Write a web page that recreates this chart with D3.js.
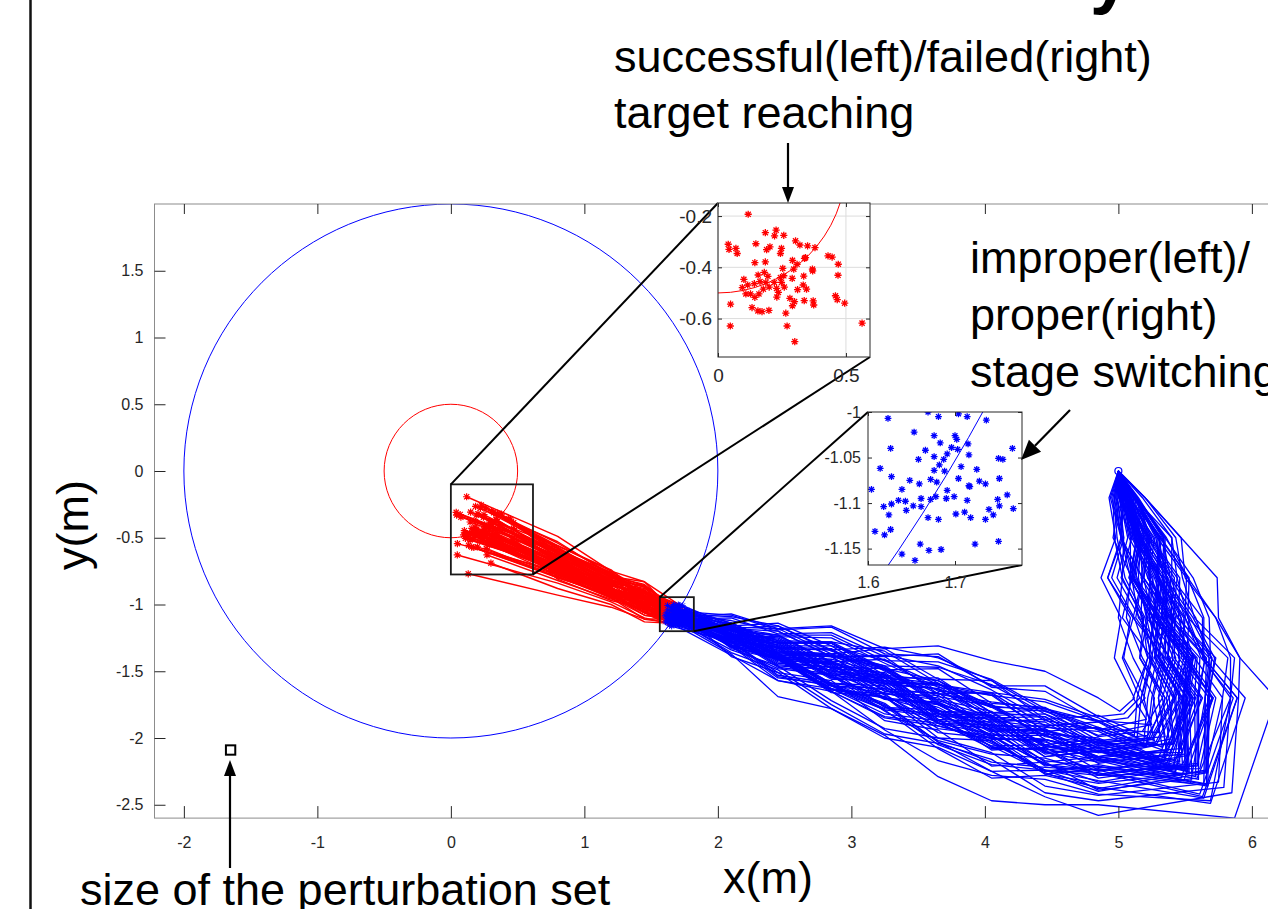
<!DOCTYPE html>
<html>
<head>
<meta charset="utf-8">
<script src="https://cdn.jsdelivr.net/npm/d3@7"></script>
<style>
  body { margin: 0; background: #fff; }
  svg { display: block; }
</style>
</head>
<body>
<svg id="fig" width="1268" height="909"></svg>
<script>
// ---- axis ticks ----
const xTicks = [-2, -1, 0, 1, 2, 3, 4, 5, 6];
const yTicks = [-2.5, -2, -1.5, -1, -0.5, 0, 0.5, 1, 1.5];
const redInsetXTicks = [0, 0.5];
const redInsetYTicks = [-0.6, -0.4, -0.2];
const blueInsetXTicks = [1.6, 1.7];
const blueInsetYTicks = [-1.15, -1.1, -1.05, -1];

// ---- circles (radius, colour) ----
const circleRadii = [2, 0.5];
const circleColors = ["#0000ff", "#ff0000"];

// ---- zoom windows in data units [x0, x1, y0, y1] ----
const redZoomBox = [0, 0.615, -0.775, -0.1];
const blueZoomBox = [1.565, 1.82, -1.2, -0.945];
const perturbBox = [-1.685, -1.615, -2.125, -2.055];

// ---- start of every run ----
const startPt = [5.0, 0.0];

// ---- target reaching points (red stars) ----
const targetX = [0.118,0.040,0.043,0.070,0.075,0.148,0.185,0.227,0.221,0.257,
  0.190,0.203,0.248,0.244,0.303,0.320,0.350,0.379,0.144,0.185,
  0.253,0.291,0.309,0.296,0.338,0.342,0.430,0.446,0.470,0.369,
  0.370,0.469,0.101,0.157,0.181,0.195,0.164,0.187,0.220,0.244,
  0.257,0.248,0.290,0.335,0.095,0.142,0.200,0.229,0.236,0.259,
  0.109,0.127,0.160,0.144,0.230,0.281,0.311,0.333,0.346,0.337,
  0.372,0.374,0.299,0.049,0.133,0.156,0.172,0.199,0.265,0.291,
  0.459,0.466,0.495,0.048,0.270,0.300,0.563,0.116,0.177,0.130];
const targetY = [-0.193,-0.310,-0.330,-0.326,-0.346,-0.308,-0.265,-0.255,-0.277,-0.275,
  -0.331,-0.320,-0.326,-0.346,-0.297,-0.313,-0.316,-0.323,-0.382,-0.379,
  -0.404,-0.373,-0.388,-0.407,-0.365,-0.362,-0.355,-0.360,-0.388,-0.407,
  -0.414,-0.431,-0.447,-0.430,-0.420,-0.435,-0.456,-0.459,-0.459,-0.440,
  -0.433,-0.459,-0.443,-0.434,-0.479,-0.464,-0.477,-0.482,-0.498,-0.477,
  -0.504,-0.504,-0.504,-0.517,-0.516,-0.521,-0.487,-0.469,-0.485,-0.530,
  -0.531,-0.547,-0.534,-0.544,-0.557,-0.570,-0.573,-0.568,-0.579,-0.550,
  -0.511,-0.526,-0.540,-0.629,-0.629,-0.690,-0.618,-0.469,-0.485,-0.770];

// ---- stage switching points (blue stars) ----
const switchX = [1.623,1.669,1.681,1.704,1.714,1.736,1.653,1.676,1.683,1.700,
  1.702,1.696,1.703,1.715,1.626,1.666,1.676,1.691,1.658,1.687,
  1.682,1.614,1.676,1.688,1.707,1.725,1.716,1.750,1.755,1.766,
  1.627,1.672,1.648,1.659,1.679,1.704,1.716,1.728,1.735,1.751,
  1.604,1.639,1.691,1.717,1.760,1.749,1.661,1.672,1.678,1.690,
  1.699,1.714,1.635,1.643,1.627,1.618,1.652,1.644,1.624,1.701,
  1.711,1.718,1.739,1.744,1.751,1.767,1.669,1.681,1.735,1.608,
  1.619,1.626,1.660,1.670,1.684,1.723,1.750,1.639,1.654,1.661];
const switchY = [-1.007,-1.000,-1.005,-1.002,-1.005,-1.009,-1.022,-1.026,-1.034,-1.026,
  -1.030,-1.039,-1.041,-1.035,-1.040,-1.042,-1.049,-1.046,-1.052,-1.052,
  -1.058,-1.062,-1.064,-1.065,-1.060,-1.063,-1.047,-1.051,-1.052,-1.040,
  -1.071,-1.074,-1.075,-1.079,-1.077,-1.073,-1.081,-1.076,-1.079,-1.073,
  -1.085,-1.085,-1.086,-1.082,-1.091,-1.096,-1.095,-1.096,-1.093,-1.095,
  -1.093,-1.097,-1.097,-1.098,-1.101,-1.104,-1.103,-1.108,-1.113,-1.112,
  -1.110,-1.116,-1.107,-1.113,-1.103,-1.106,-1.116,-1.118,-1.118,-1.131,
  -1.135,-1.129,-1.145,-1.152,-1.151,-1.145,-1.142,-1.156,-1.163,-1.104];

// ---- blue runs, way down: x of each run where it crosses these y levels ----
const downLevels = [-0.2, -0.5, -0.8, -1.1, -1.4, -1.7];
const downX1 = [5.09,5.00,5.13,5.02,5.12,4.99,5.08,5.14,5.01,5.13,4.97,5.10,5.08,5.14,5.01,5.13,4.94,5.04,5.14,5.05,
  5.08,5.03,5.11,5.07,5.09,5.03,5.20,5.04,5.06,5.07,5.01,5.09,5.05,5.04,5.06,5.12,5.08,4.97,5.12,5.09,
  5.03,5.20,5.01,5.03,5.08,5.06,5.05,4.93,5.14,5.04,5.06,4.98,5.18,5.09,5.02,5.12,4.99,5.20,5.10,4.95,
  5.13,5.06,5.04,5.12,4.98,5.06,5.02,5.15,4.96,5.04,5.13,5.02,5.14,5.01,5.09,5.01,5.11,5.02,5.13,5.09];
const downX2 = [5.14,5.14,5.34,5.11,5.28,5.04,5.12,5.33,5.17,5.35,5.02,5.17,5.21,5.35,5.16,5.30,5.02,5.17,5.24,5.16,
  5.32,5.09,5.32,5.11,5.25,5.02,5.47,5.23,5.16,5.22,5.04,5.26,5.24,5.02,5.20,5.40,5.17,4.99,5.31,5.15,
  5.10,5.43,4.96,5.12,5.31,5.13,5.17,4.98,5.23,5.13,5.18,5.10,5.40,5.13,5.19,5.19,5.03,5.47,5.23,5.03,
  5.22,5.17,5.22,5.29,5.02,5.27,5.08,5.34,4.97,5.16,5.29,5.13,5.36,5.15,5.14,5.07,5.17,5.18,5.31,5.20];
const downX3 = [5.33,5.08,5.33,5.25,5.34,4.95,5.31,5.39,5.11,5.56,5.14,5.37,5.24,5.35,5.10,5.36,4.92,5.33,5.46,5.10,
  5.30,5.09,5.52,5.29,5.22,5.18,5.50,5.19,5.18,5.39,5.03,5.39,5.19,5.18,5.37,5.40,5.15,5.05,5.29,5.35,
  5.26,5.48,5.10,5.22,5.28,5.10,5.28,4.87,5.44,5.30,5.30,5.02,5.44,5.31,5.13,5.39,5.11,5.74,5.23,4.92,
  5.42,5.12,5.17,5.51,5.09,5.23,5.24,5.36,5.03,5.31,5.30,5.27,5.52,5.08,5.33,4.99,5.37,5.11,5.53,5.19];
const downX4 = [5.30,5.27,5.54,5.35,5.33,5.12,5.28,5.40,5.32,5.68,5.22,5.34,5.23,5.56,5.30,5.36,5.11,5.43,5.45,5.29,
  5.53,5.06,5.64,5.26,5.41,5.13,5.73,5.40,5.17,5.50,5.00,5.58,5.38,5.11,5.47,5.63,5.21,5.20,5.50,5.32,
  5.23,5.57,5.03,5.39,5.49,5.15,5.45,5.02,5.41,5.27,5.47,5.19,5.52,5.26,5.34,5.35,5.26,5.75,5.29,5.09,
  5.39,5.31,5.36,5.50,5.24,5.42,5.21,5.44,5.18,5.41,5.38,5.37,5.73,5.26,5.28,5.16,5.32,5.30,5.52,5.25];
const downX5 = [5.53,5.23,5.70,5.30,5.50,5.22,5.51,5.57,5.27,5.69,5.16,5.58,5.38,5.72,5.25,5.52,5.03,5.40,5.70,5.41,
  5.51,5.18,5.64,5.49,5.55,5.34,5.91,5.37,5.30,5.47,5.11,5.68,5.37,5.35,5.45,5.63,5.46,5.24,5.65,5.56,
  5.31,5.87,5.25,5.46,5.49,5.39,5.53,4.97,5.68,5.36,5.56,5.16,5.82,5.51,5.30,5.61,5.32,5.91,5.56,5.04,
  5.66,5.43,5.35,5.62,5.29,5.42,5.28,5.73,5.22,5.37,5.65,5.33,5.84,5.23,5.54,5.26,5.59,5.28,5.64,5.51];
const downX6 = [5.48,5.38,5.65,5.52,5.70,5.11,5.45,5.78,5.43,5.95,5.35,5.53,5.56,5.68,5.41,5.73,5.16,5.62,5.67,5.33,
  5.70,5.35,5.89,5.42,5.49,5.26,5.90,5.54,5.48,5.71,5.27,5.65,5.58,5.30,5.68,5.84,5.38,5.17,5.60,5.50,
  5.51,5.84,5.19,5.41,5.71,5.30,5.49,5.12,5.68,5.56,5.52,5.33,5.78,5.49,5.46,5.60,5.25,6.18,5.48,5.20,
  5.65,5.36,5.55,5.86,5.22,5.63,5.48,5.67,5.14,5.60,5.59,5.54,5.84,5.42,5.51,5.17,5.57,5.47,5.89,5.43];

// ---- blue runs: lowest point of each run ----
const cornerX = [5.50,5.22,5.65,5.34,5.59,5.21,5.48,5.65,5.26,5.69,5.20,5.55,5.48,5.67,5.24,5.61,5.04,5.42,5.66,5.38,
  5.48,5.30,5.64,5.46,5.52,5.33,5.85,5.35,5.41,5.49,5.24,5.54,5.38,5.36,5.47,5.59,5.42,5.14,5.60,5.52,
  5.32,5.79,5.27,5.34,5.49,5.35,5.41,5.01,5.67,5.37,5.43,5.18,5.75,5.51,5.28,5.60,5.21,5.87,5.50,5.07,
  5.64,5.41,5.36,5.61,5.19,5.43,5.30,5.66,5.12,5.40,5.59,5.36,5.69,5.25,5.53,5.25,5.58,5.29,5.63,5.46];
const cornerY = [-2.22,-1.98,-2.24,-2.18,-2.21,-1.86,-2.20,-2.26,-2.01,-2.49,-2.07,-2.26,-2.11,-2.26,-2.00,-2.23,-1.82,-2.26,-2.35,-2.01,
  -2.20,-1.96,-2.45,-2.18,-2.13,-2.07,-2.41,-2.09,-2.05,-2.32,-1.90,-2.34,-2.12,-2.10,-2.30,-2.30,-2.04,-2.00,-2.20,-2.24,
  -2.17,-2.37,-2.02,-2.17,-2.21,-1.99,-2.23,-1.80,-2.36,-2.21,-2.25,-1.95,-2.33,-2.23,-2.03,-2.31,-2.06,-2.60,-2.12,-1.85,
  -2.34,-2.03,-2.10,-2.42,-2.04,-2.16,-2.15,-2.25,-1.98,-2.24,-2.19,-2.20,-2.47,-2.01,-2.25,-1.90,-2.29,-2.04,-2.44,-2.08];

// ---- blue runs, way back: y of each run where it crosses these x levels ----
const leftLevels = [4.85, 4.45, 4.05, 3.65, 3.25, 2.85, 2.45, 2.1];
const leftY1 = [-2.05,-2.02,-2.38,-2.02,-2.22,-1.94,-2.03,-2.28,-2.06,-2.37,-1.88,-2.10,-2.11,-2.40,-2.04,-2.24,-1.84,-2.10,-2.21,-2.11,
  -2.28,-1.93,-2.32,-2.01,-2.25,-1.88,-2.58,-2.15,-2.04,-2.17,-1.87,-2.27,-2.19,-1.92,-2.15,-2.39,-2.10,-1.87,-2.33,-2.07,
  -1.95,-2.47,-1.83,-2.07,-2.30,-2.03,-2.14,-1.70,-2.23,-2.00,-2.16,-1.99,-2.43,-2.07,-2.08,-2.16,-1.94,-2.50,-2.18,-1.88,
  -2.20,-2.14,-2.17,-2.24,-1.92,-2.24,-1.93,-2.34,-1.85,-2.08,-2.27,-2.04,-2.42,-2.06,-2.09,-1.98,-2.14,-2.10,-2.26,-2.14];
const leftY2 = [-2.09,-1.79,-2.24,-1.91,-2.17,-1.78,-2.07,-2.24,-1.84,-2.28,-1.78,-2.14,-2.06,-2.26,-1.82,-2.20,-1.61,-2.01,-2.25,-1.96,
  -2.07,-1.87,-2.24,-2.05,-2.10,-1.91,-2.44,-1.93,-1.99,-2.08,-1.80,-2.15,-1.97,-1.95,-2.05,-2.18,-2.01,-1.73,-2.19,-2.12,
  -1.92,-2.41,-1.86,-1.94,-2.09,-1.95,-2.01,-1.50,-2.27,-1.97,-2.03,-1.77,-2.36,-2.11,-1.86,-2.21,-1.80,-2.50,-2.11,-1.65,
  -2.25,-1.98,-1.95,-2.22,-1.78,-2.02,-1.90,-2.27,-1.71,-1.98,-2.20,-1.94,-2.31,-1.84,-2.14,-1.82,-2.18,-1.88,-2.24,-2.06];
const leftY3 = [-1.85,-1.81,-2.04,-1.91,-1.96,-1.56,-1.83,-2.03,-1.85,-2.30,-1.77,-1.90,-1.84,-2.06,-1.83,-1.98,-1.61,-2.01,-2.02,-1.75,
  -2.09,-1.64,-2.25,-1.81,-1.89,-1.66,-2.25,-1.95,-1.76,-2.08,-1.57,-2.12,-1.95,-1.67,-2.06,-2.21,-1.75,-1.68,-1.99,-1.88,
  -1.87,-2.16,-1.57,-1.90,-2.07,-1.68,-1.97,-1.42,-2.00,-1.92,-2.00,-1.74,-2.11,-1.83,-1.88,-1.93,-1.76,-2.47,-1.85,-1.62,
  -1.98,-1.77,-1.93,-2.18,-1.73,-2.00,-1.84,-2.02,-1.66,-1.98,-1.94,-1.94,-2.28,-1.81,-1.86,-1.60,-1.91,-1.86,-2.20,-1.80];
const leftY4 = [-1.84,-1.57,-1.87,-1.73,-1.75,-1.43,-1.82,-1.81,-1.61,-2.08,-1.59,-1.89,-1.64,-1.89,-1.59,-1.77,-1.39,-1.81,-2.00,-1.60,
  -1.83,-1.46,-2.03,-1.80,-1.74,-1.67,-2.07,-1.70,-1.57,-1.88,-1.40,-2.02,-1.68,-1.65,-1.86,-1.94,-1.67,-1.62,-1.82,-1.86,
  -1.74,-2.04,-1.56,-1.82,-1.79,-1.60,-1.89,-1.31,-1.96,-1.79,-1.91,-1.48,-2.00,-1.80,-1.63,-1.89,-1.69,-2.29,-1.75,-1.37,
  -1.93,-1.63,-1.66,-2.03,-1.67,-1.73,-1.72,-1.91,-1.60,-1.79,-1.84,-1.75,-2.17,-1.55,-1.82,-1.47,-1.87,-1.59,-2.05,-1.71];
const leftY5 = [-1.55,-1.53,-1.82,-1.47,-1.64,-1.42,-1.53,-1.70,-1.57,-1.79,-1.35,-1.59,-1.54,-1.84,-1.55,-1.66,-1.37,-1.55,-1.69,-1.58,
  -1.77,-1.38,-1.75,-1.51,-1.70,-1.39,-2.00,-1.65,-1.48,-1.61,-1.32,-1.80,-1.67,-1.41,-1.59,-1.87,-1.63,-1.44,-1.78,-1.57,
  -1.48,-1.97,-1.33,-1.62,-1.77,-1.57,-1.68,-1.33,-1.69,-1.52,-1.70,-1.49,-1.93,-1.55,-1.59,-1.63,-1.50,-1.98,-1.71,-1.39,
  -1.67,-1.60,-1.65,-1.74,-1.48,-1.71,-1.46,-1.85,-1.42,-1.53,-1.79,-1.49,-1.94,-1.55,-1.57,-1.46,-1.61,-1.59,-1.76,-1.67];
const leftY6 = [-1.52,-1.29,-1.63,-1.38,-1.59,-1.31,-1.50,-1.64,-1.33,-1.63,-1.28,-1.55,-1.51,-1.65,-1.31,-1.61,-1.17,-1.44,-1.63,-1.44,
  -1.49,-1.39,-1.60,-1.48,-1.54,-1.39,-1.78,-1.39,-1.47,-1.49,-1.34,-1.53,-1.44,-1.43,-1.47,-1.57,-1.48,-1.25,-1.60,-1.53,
  -1.38,-1.75,-1.37,-1.39,-1.52,-1.43,-1.44,-1.16,-1.66,-1.41,-1.45,-1.29,-1.72,-1.55,-1.34,-1.61,-1.29,-1.78,-1.54,-1.21,
  -1.64,-1.46,-1.42,-1.59,-1.28,-1.47,-1.37,-1.65,-1.23,-1.43,-1.61,-1.39,-1.65,-1.34,-1.56,-1.35,-1.59,-1.37,-1.61,-1.51];
const leftY7 = [-1.30,-1.29,-1.40,-1.36,-1.37,-1.14,-1.29,-1.41,-1.32,-1.57,-1.29,-1.33,-1.31,-1.41,-1.31,-1.39,-1.19,-1.42,-1.39,-1.24,
  -1.45,-1.20,-1.55,-1.28,-1.32,-1.20,-1.51,-1.37,-1.27,-1.46,-1.16,-1.48,-1.40,-1.23,-1.44,-1.51,-1.26,-1.24,-1.37,-1.32,
  -1.36,-1.49,-1.18,-1.36,-1.47,-1.23,-1.40,-1.18,-1.41,-1.39,-1.41,-1.29,-1.46,-1.32,-1.33,-1.38,-1.28,-1.69,-1.32,-1.22,
  -1.40,-1.25,-1.39,-1.53,-1.27,-1.43,-1.35,-1.41,-1.23,-1.40,-1.37,-1.38,-1.57,-1.33,-1.34,-1.16,-1.36,-1.35,-1.54,-1.29];
const leftY8 = [-1.25,-1.14,-1.32,-1.18,-1.22,-1.16,-1.24,-1.25,-1.16,-1.31,-1.14,-1.26,-1.18,-1.33,-1.15,-1.23,-1.08,-1.22,-1.30,-1.23,
  -1.24,-1.12,-1.30,-1.23,-1.27,-1.18,-1.39,-1.19,-1.16,-1.24,-1.09,-1.32,-1.21,-1.20,-1.23,-1.28,-1.22,-1.18,-1.31,-1.26,
  -1.17,-1.36,-1.17,-1.25,-1.25,-1.20,-1.27,-1.07,-1.31,-1.18,-1.28,-1.14,-1.34,-1.26,-1.17,-1.29,-1.20,-1.37,-1.26,-1.10,
  -1.31,-1.23,-1.20,-1.27,-1.19,-1.22,-1.16,-1.31,-1.17,-1.21,-1.29,-1.19,-1.38,-1.16,-1.27,-1.18,-1.28,-1.18,-1.28,-1.24];

// ---- red runs: y of each run where it crosses these x levels ----
const redLevels = [1.45, 1.2, 0.8];
const redY0 = [-0.83,-0.94,-0.87,-0.92,-0.83,-0.90,-0.86,-0.95,-0.85,-0.93,-0.90,-0.96,-0.86,-0.95,-0.87,-0.97,-0.90,-0.94,-0.89,-0.98,
  -0.91,-1.01,-0.94,-0.99,-0.88,-0.97,-0.87,-1.00,-0.91,-0.96,-0.91,-1.01,-0.94,-1.04,-0.94,-1.01,-0.90,-1.01,-0.92,-1.04,
  -0.94,-1.00,-0.91,-1.03,-0.96,-1.05,-0.98,-1.03,-0.93,-1.02,-0.95,-1.06,-0.96,-1.02,-0.94,-1.06,-0.96,-1.06,-0.99,-1.06,
  -0.94,-1.06,-0.96,-1.08,-0.98,-1.04,-0.96,-1.08,-0.98,-1.11,-1.01,-1.06,-0.98,-1.10,-1.01,-1.13,-1.03,-1.06,-0.98,-1.11];
const redY1 = [-0.75,-0.76,-0.80,-0.76,-0.79,-0.75,-0.78,-0.74,-0.79,-0.77,-0.81,-0.78,-0.82,-0.79,-0.80,-0.77,-0.82,-0.79,-0.84,-0.81,
  -0.85,-0.82,-0.85,-0.83,-0.83,-0.81,-0.80,-0.83,-0.82,-0.84,-0.86,-0.85,-0.88,-0.87,-0.84,-0.87,-0.86,-0.89,-0.86,-0.88,
  -0.85,-0.88,-0.86,-0.87,-0.90,-0.87,-0.90,-0.88,-0.91,-0.88,-0.90,-0.91,-0.88,-0.91,-0.89,-0.92,-0.90,-0.88,-0.91,-0.93,
  -0.90,-0.94,-0.92,-0.93,-0.91,-0.94,-0.92,-0.95,-0.93,-0.95,-0.93,-0.91,-0.95,-0.98,-0.96,-1.00,-0.97,-0.93,-0.92,-1.02];
const redY2 = [-0.49,-0.59,-0.58,-0.60,-0.61,-0.56,-0.53,-0.56,-0.58,-0.54,-0.61,-0.60,-0.62,-0.63,-0.57,-0.61,-0.58,-0.62,-0.63,-0.66,
  -0.64,-0.65,-0.66,-0.67,-0.62,-0.64,-0.60,-0.61,-0.65,-0.66,-0.68,-0.69,-0.70,-0.67,-0.69,-0.66,-0.71,-0.70,-0.68,-0.69,
  -0.70,-0.71,-0.68,-0.66,-0.72,-0.71,-0.70,-0.73,-0.74,-0.72,-0.72,-0.74,-0.75,-0.73,-0.76,-0.75,-0.71,-0.72,-0.74,-0.76,
  -0.74,-0.77,-0.76,-0.75,-0.78,-0.79,-0.80,-0.77,-0.80,-0.78,-0.74,-0.77,-0.79,-0.84,-0.82,-0.88,-0.81,-0.74,-0.76,-0.93];

// ---------------------------------------------------------------
const W = 1268, H = 909;
const FONT = '"Liberation Sans", Arial, Helvetica, sans-serif';
const RED = "#ff0000", BLUE = "#0000ff", TXT = "#262626";
const svg = d3.select("#fig").attr("font-family", FONT);

const x = d3.scaleLinear().domain([-2.22, 6.32]).range([154.5, 1294.6]);
const y = d3.scaleLinear().domain([-2.6, 2.0]).range([818.1, 204]);

const downCols = [downX1, downX2, downX3, downX4, downX5, downX6];
const leftCols = [leftY1, leftY2, leftY3, leftY4, leftY5, leftY6, leftY7, leftY8];
const redCols = [redY0, redY1, redY2];

const bluePaths = switchX.map((sx, i) => [
  startPt,
  ...downLevels.map((lv, k) => [downCols[k][i], lv]),
  [cornerX[i], cornerY[i]],
  ...leftLevels.map((lv, k) => [lv, leftCols[k][i]]),
  [sx, switchY[i]]
]);
const redPaths = switchX.map((sx, i) => [
  [sx, switchY[i]],
  ...redLevels.map((lv, k) => [lv, redCols[k][i]]),
  [targetX[i], targetY[i]]
]);
const targets = targetX.map((v, i) => [v, targetY[i]]);
const switches = switchX.map((v, i) => [v, switchY[i]]);

const starPath = r => {
  const d = r * 0.72;
  return `M${-r},0H${r}M0,${-r}V${r}M${-d},${-d}L${d},${d}M${-d},${d}L${d},${-d}`;
};

// left frame edge of the figure
svg.append("line").attr("x1", 30.5).attr("x2", 30.5).attr("y1", 0).attr("y2", H)
  .attr("stroke", "#111").attr("stroke-width", 2.5);

// ---------- main axes ----------
const [px0, px1] = x.range();
const [py1, py0] = y.range();
const defs = svg.append("defs");
defs.append("clipPath").attr("id", "clipMain").append("rect")
  .attr("x", px0).attr("y", py0).attr("width", px1 - px0).attr("height", py1 - py0);

const plot = svg.append("g").attr("clip-path", "url(#clipMain)");

plot.selectAll("ellipse.ring").data(circleRadii).join("ellipse")
  .attr("class", "ring")
  .attr("cx", x(0)).attr("cy", y(0))
  .attr("rx", r => x(r) - x(0)).attr("ry", r => y(-r) - y(0))
  .attr("fill", "none").attr("stroke", (r, i) => circleColors[i]).attr("stroke-width", 1);

const lineMain = d3.line().x(d => x(d[0])).y(d => y(d[1]));

plot.append("g").selectAll("path").data(redPaths).join("path")
  .attr("d", lineMain).attr("fill", "none").attr("stroke", RED).attr("stroke-width", 1.45)
  .attr("stroke-linejoin", "round");
plot.append("g").selectAll("path").data(bluePaths).join("path")
  .attr("d", lineMain).attr("fill", "none").attr("stroke", BLUE).attr("stroke-width", 1.3)
  .attr("stroke-linejoin", "round");

plot.append("circle").attr("cx", x(startPt[0])).attr("cy", y(startPt[1])).attr("r", 3.5)
  .attr("fill", "none").attr("stroke", BLUE).attr("stroke-width", 1.2);

plot.append("g").selectAll("path").data(targets).join("path")
  .attr("transform", d => `translate(${x(d[0])},${y(d[1])})`)
  .attr("d", starPath(3.6)).attr("stroke", RED).attr("stroke-width", 1.2).attr("fill", "none");
plot.append("g").selectAll("path").data(switches).join("path")
  .attr("transform", d => `translate(${x(d[0])},${y(d[1])})`)
  .attr("d", starPath(3.2)).attr("stroke", BLUE).attr("stroke-width", 1).attr("fill", "none");

[redZoomBox, blueZoomBox].forEach(b => {
  plot.append("rect").attr("x", x(b[0])).attr("y", y(b[3]))
    .attr("width", x(b[1]) - x(b[0])).attr("height", y(b[2]) - y(b[3]))
    .attr("fill", "none").attr("stroke", "#1a1a1a").attr("stroke-width", 1.8);
});
plot.append("rect").attr("x", x(perturbBox[0])).attr("y", y(perturbBox[3]))
  .attr("width", x(perturbBox[1]) - x(perturbBox[0])).attr("height", y(perturbBox[2]) - y(perturbBox[3]))
  .attr("fill", "none").attr("stroke", "#000").attr("stroke-width", 2);

svg.append("rect").attr("x", px0).attr("y", py0).attr("width", px1 - px0).attr("height", py1 - py0)
  .attr("fill", "none").attr("stroke", "#8c8c8c").attr("stroke-width", 1);

const styleAxis = (g, fs) => {
  g.select(".domain").remove();
  g.attr("font-family", FONT).attr("font-size", fs);
  g.selectAll(".tick line").attr("stroke", TXT);
  g.selectAll(".tick text").attr("fill", TXT);
};
const fmt = d => String(d);

svg.append("g").attr("transform", `translate(0,${py1})`)
  .call(d3.axisBottom(x).tickValues(xTicks).tickSizeInner(-12).tickSizeOuter(0).tickPadding(19).tickFormat(fmt))
  .call(g => styleAxis(g, 16));
svg.append("g").attr("transform", `translate(0,${py0})`)
  .call(d3.axisTop(x).tickValues(xTicks).tickSizeInner(-10).tickSizeOuter(0).tickFormat(""))
  .call(g => styleAxis(g, 16));
svg.append("g").attr("transform", `translate(${px0},0)`)
  .call(d3.axisLeft(y).tickValues(yTicks).tickSizeInner(-11).tickSizeOuter(0).tickPadding(11).tickFormat(fmt))
  .call(g => styleAxis(g, 16));

// ---------- insets ----------
const redIn = {
  id: "clipRed",
  x: d3.scaleLinear().domain([0, 0.594]).range([718, 870]),
  y: d3.scaleLinear().domain([-0.75, -0.149]).range([357, 203]),
  xt: redInsetXTicks, yt: redInsetYTicks, grid: true, box: redZoomBox
};
const blueIn = {
  id: "clipBlue",
  x: d3.scaleLinear().domain([1.6, 1.777]).range([868, 1022]),
  y: d3.scaleLinear().domain([-1.168, -1.0]).range([565, 412]),
  xt: blueInsetXTicks, yt: blueInsetYTicks, grid: false, box: blueZoomBox
};

[redIn, blueIn].forEach(ins => {
  const b = ins.box;
  const [ix0, ix1] = ins.x.range();
  const [iy1, iy0] = ins.y.range();
  svg.append("line").attr("x1", x(b[0])).attr("y1", y(b[3])).attr("x2", ix0).attr("y2", iy0)
    .attr("stroke", "#000").attr("stroke-width", 2);
  svg.append("line").attr("x1", x(b[1])).attr("y1", y(b[2])).attr("x2", ix1).attr("y2", iy1)
    .attr("stroke", "#000").attr("stroke-width", 2);
});

function drawInset(ins) {
  const [ix0, ix1] = ins.x.range();
  const [iy1, iy0] = ins.y.range();
  const g = svg.append("g");
  g.append("rect").attr("x", ix0).attr("y", iy0).attr("width", ix1 - ix0).attr("height", iy1 - iy0)
    .attr("fill", "#fff");
  defs.append("clipPath").attr("id", ins.id).append("rect")
    .attr("x", ix0).attr("y", iy0).attr("width", ix1 - ix0).attr("height", iy1 - iy0);
  if (ins.grid) {
    g.selectAll("line.gx").data(ins.xt).join("line").attr("class", "gx")
      .attr("x1", d => ins.x(d)).attr("x2", d => ins.x(d)).attr("y1", iy0).attr("y2", iy1)
      .attr("stroke", "#dcdcdc").attr("stroke-width", 1);
    g.selectAll("line.gy").data(ins.yt).join("line").attr("class", "gy")
      .attr("y1", d => ins.y(d)).attr("y2", d => ins.y(d)).attr("x1", ix0).attr("x2", ix1)
      .attr("stroke", "#dcdcdc").attr("stroke-width", 1);
  }
  const p = g.append("g").attr("clip-path", `url(#${ins.id})`);
  return { g, p, ix0, ix1, iy0, iy1 };
}

function insetAxes(ins, r, fs, padX, padY) {
  const { g, ix0, ix1, iy0, iy1 } = r;
  g.append("g").attr("transform", `translate(0,${iy1})`)
    .call(d3.axisBottom(ins.x).tickValues(ins.xt).tickSizeInner(-4).tickSizeOuter(0).tickPadding(padY).tickFormat(fmt))
    .call(a => styleAxis(a, fs));
  g.append("g").attr("transform", `translate(0,${iy0})`)
    .call(d3.axisTop(ins.x).tickValues(ins.xt).tickSizeInner(-4).tickSizeOuter(0).tickFormat(""))
    .call(a => styleAxis(a, fs));
  g.append("g").attr("transform", `translate(${ix0},0)`)
    .call(d3.axisLeft(ins.y).tickValues(ins.yt).tickSizeInner(-4).tickSizeOuter(0).tickPadding(padX).tickFormat(fmt))
    .call(a => styleAxis(a, fs));
  g.append("g").attr("transform", `translate(${ix1},0)`)
    .call(d3.axisRight(ins.y).tickValues(ins.yt).tickSizeInner(-4).tickSizeOuter(0).tickFormat(""))
    .call(a => styleAxis(a, fs));
  g.append("rect").attr("x", ix0).attr("y", iy0).attr("width", ix1 - ix0).attr("height", iy1 - iy0)
    .attr("fill", "none").attr("stroke", TXT).attr("stroke-width", 1);
}

const rIn = drawInset(redIn);
rIn.p.append("ellipse").attr("cx", redIn.x(0)).attr("cy", redIn.y(0))
  .attr("rx", redIn.x(circleRadii[1]) - redIn.x(0)).attr("ry", redIn.y(-circleRadii[1]) - redIn.y(0))
  .attr("fill", "none").attr("stroke", RED).attr("stroke-width", 1);
rIn.p.selectAll("path.st").data(targets).join("path").attr("class", "st")
  .attr("transform", d => `translate(${redIn.x(d[0])},${redIn.y(d[1])})`)
  .attr("d", starPath(3.6)).attr("stroke", RED).attr("stroke-width", 1.3).attr("fill", "none");
insetAxes(redIn, rIn, 19, 6, 12);

const bIn = drawInset(blueIn);
bIn.p.append("ellipse").attr("cx", blueIn.x(0)).attr("cy", blueIn.y(0))
  .attr("rx", blueIn.x(circleRadii[0]) - blueIn.x(0)).attr("ry", blueIn.y(-circleRadii[0]) - blueIn.y(0))
  .attr("fill", "none").attr("stroke", BLUE).attr("stroke-width", 1);
bIn.p.selectAll("path.st").data(switches).join("path").attr("class", "st")
  .attr("transform", d => `translate(${blueIn.x(d[0])},${blueIn.y(d[1])})`)
  .attr("d", starPath(3.4)).attr("stroke", BLUE).attr("stroke-width", 1.3).attr("fill", "none");
insetAxes(blueIn, bIn, 16, 7, 12);

// ---------- annotations ----------
function arrow(x1, y1, x2, y2, len, wid) {
  const a = Math.atan2(y2 - y1, x2 - x1);
  const bx = x2 - len * Math.cos(a), by = y2 - len * Math.sin(a);
  const nx = -Math.sin(a) * wid / 2, ny = Math.cos(a) * wid / 2;
  svg.append("line").attr("x1", x1).attr("y1", y1).attr("x2", bx).attr("y2", by)
    .attr("stroke", "#000").attr("stroke-width", 2.2);
  svg.append("path").attr("d", `M${x2},${y2}L${bx + nx},${by + ny}L${bx - nx},${by - ny}Z`).attr("fill", "#000");
}
arrow(788, 143, 788, 203, 16, 12);
arrow(1070, 410, 1021, 460, 20, 17);
arrow(230, 868, 230, 760, 16, 12);

const label = (t, lx, ly, fs) => svg.append("text").attr("x", lx).attr("y", ly)
  .attr("font-size", fs).attr("fill", "#000").text(t);
label("successful(left)/failed(right)", 614, 72, 45);
label("target reaching", 614, 128, 45);
label("improper(left)/", 970, 273, 45);
label("proper(right)", 970, 330, 45);
label("stage switching", 970, 387, 45);
label("size of the perturbation set", 80, 905, 45);
label("x(m)", 723, 893, 45);
svg.append("text").attr("transform", "translate(88,525) rotate(-90)")
  .attr("text-anchor", "middle").attr("font-size", 45).attr("fill", "#000").text("y(m)");

// tail of the cut-off figure title
svg.append("text").attr("x", 1090).attr("y", 0).attr("font-size", 72).attr("font-weight", "bold")
  .attr("fill", "#000").text("y");
</script>
</body>
</html>
